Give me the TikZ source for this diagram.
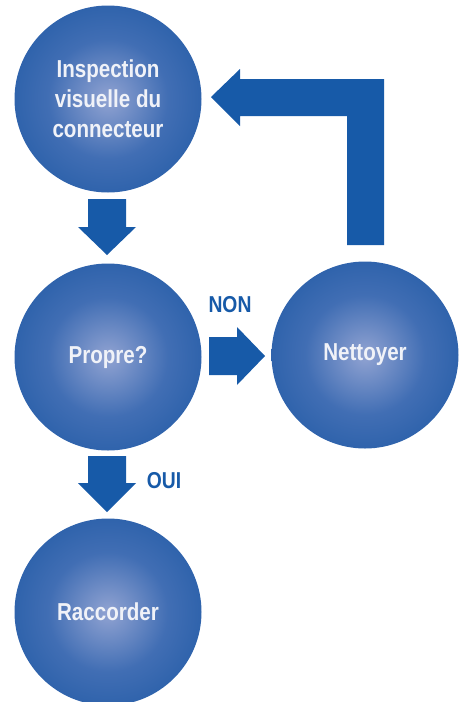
\documentclass[tikz,border=0pt]{standalone}
\usepackage{fontspec}
\setmainfont{Liberation Sans}[FakeStretch=0.84]
\definecolor{arrowblue}{RGB}{23,90,168}
\definecolor{ballin}{RGB}{145,163,210}
\definecolor{ballmid}{RGB}{65,110,180}
\definecolor{ballout}{RGB}{26,86,162}
\definecolor{txtwhite}{RGB}{240,242,248}
\pgfdeclareradialshading{ball}{\pgfpoint{0bp}{0bp}}{color(0bp)=(ballin); color(16bp)=(ballmid); color(36bp)=(ballout); color(50bp)=(ballout)}
\tikzset{
  ballnode/.style={circle, minimum size=187pt, inner sep=0pt, shading=ball,
    text=txtwhite, font=\fontsize{24.5}{30}\selectfont\bfseries, align=center},
  arrowshape/.style={fill=arrowblue, draw=none},
  lbl/.style={text=arrowblue, font=\fontsize{23}{26}\selectfont\bfseries, inner sep=0pt}
}
\begin{document}
\begin{tikzpicture}[x=1pt,y=-1pt]
\useasboundingbox (0,0) rectangle (459,702);
% circles
\node[ballnode] (insp) at (108,99) {Inspection\\visuelle du\\connecteur};
\node[ballnode] (propre) at (108,357) {Propre?};
\node[ballnode] (nett) at (365,355) {Nettoyer};
\node[ballnode] (racc) at (108,612) {Raccorder};
% arrow insp -> propre
\coordinate (a1) at (107,199);
\fill[arrowshape] (a1) ++(-19,0) -- ++(38,0) -- ++(0,28) -- ++(10,0) -- (107,255) -- (78,227) -- ++(10,0) -- cycle;
% arrow propre -> nett (NON)
\coordinate (a2) at (209,337);
\fill[arrowshape] (a2) -- ++(28,0) -- ++(0,-10) -- (265,356) -- (237,385) -- ++(0,-10) -- (209,375) -- cycle;
\node[lbl] (non) at (230,305) {NON};
% arrow nett -> insp (return)
\coordinate (a3) at (347,245);
\fill[arrowshape] (a3) -- (347,116) -- (240,116) -- (240,126) -- (211,97) -- (240,69) -- (240,79) -- (384,79) -- (384,245) -- cycle;
% arrow propre -> racc (OUI)
\coordinate (a4) at (88,456);
\fill[arrowshape] (a4) -- (126,456) -- (126,483) -- (136,483) -- (107,512) -- (78,483) -- (88,483) -- cycle;
\node[lbl] (oui) at (164,481) {OUI};
\end{tikzpicture}
\end{document}
